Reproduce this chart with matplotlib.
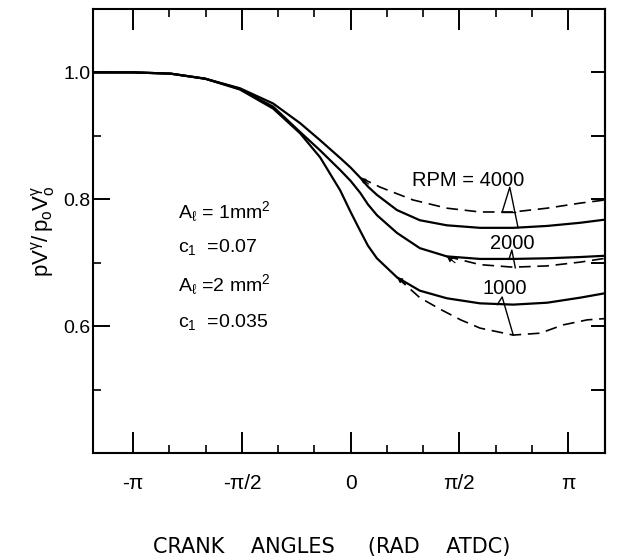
import numpy as np
import matplotlib
matplotlib.use('Agg')
import matplotlib.pyplot as plt
from matplotlib.ticker import FixedLocator

plt.rcParams['font.family'] = ['Liberation Sans', 'DejaVu Sans']
plt.rcParams['mathtext.fontset'] = 'custom'
plt.rcParams['mathtext.rm'] = 'Liberation Sans'
plt.rcParams['mathtext.it'] = 'Liberation Sans'

# crank angle (rad ATDC)
angle = [-3.72, -3.14, -2.6, -2.1, -1.6, -1.12, -0.73, -0.44, -0.15, 0.0,
         0.14, 0.25, 0.38, 0.67, 1.0, 1.39, 1.87, 2.35, 2.84, 3.32, 3.68]

# A_l = 1 mm^2, c1 = 0.07 (solid)
solid_4000 = [1.0, 1.0, 0.998, 0.99, 0.975, 0.951, 0.920, 0.893, 0.865, 0.850,
              0.834, 0.820, 0.807, 0.783, 0.767, 0.759, 0.755, 0.755, 0.758, 0.763, 0.768]
solid_2000 = [1.0, 1.0, 0.998, 0.99, 0.974, 0.946, 0.906, 0.877, 0.846, 0.829,
              0.810, 0.792, 0.775, 0.747, 0.723, 0.710, 0.706, 0.706, 0.707, 0.709, 0.711]
solid_1000 = [1.0, 1.0, 0.998, 0.99, 0.973, 0.943, 0.904, 0.866, 0.814, 0.780,
              0.750, 0.727, 0.707, 0.677, 0.656, 0.644, 0.636, 0.634, 0.637, 0.645, 0.652]

# A_l = 2 mm^2, c1 = 0.035 (dashed), branching off the solid curves
dash_4000_x = [0.14, 0.43, 0.90, 1.39, 1.87, 2.35, 2.84, 3.32, 3.68]
dash_4000_y = [0.834, 0.819, 0.799, 0.786, 0.780, 0.780, 0.786, 0.794, 0.799]
dash_2000_x = [1.39, 1.87, 2.35, 2.84, 3.32, 3.68]
dash_2000_y = [0.710, 0.697, 0.693, 0.695, 0.701, 0.707]
dash_1000_x = [0.67, 1.0, 1.29, 1.59, 1.87, 2.35, 2.74, 3.07, 3.42, 3.68]
dash_1000_y = [0.677, 0.645, 0.627, 0.610, 0.597, 0.586, 0.589, 0.602, 0.610, 0.612]

x_ticks = [-np.pi, -np.pi / 2, 0, np.pi / 2, np.pi]
x_ticklabels = ['-\u03c0', '-\u03c0/2', '0', '\u03c0/2', '\u03c0']
y_ticks = [0.6, 0.8, 1.0]
y_ticklabels = ['0.6', '0.8', '1.0']

fig = plt.figure(figsize=(6.17, 5.58), dpi=100)
ax = fig.add_axes([0.151, 0.188, 0.830, 0.796])

ax.plot(angle, solid_4000, color='black', lw=1.6)
ax.plot(angle, solid_2000, color='black', lw=1.6)
ax.plot(angle, solid_1000, color='black', lw=1.6)
for dx, dy in [(dash_4000_x, dash_4000_y), (dash_2000_x, dash_2000_y),
               (dash_1000_x, dash_1000_y)]:
    ax.plot(dx, dy, color='black', lw=1.2, dashes=(7, 4))
    # small arrowhead where the dashed curve leaves the solid one
    ax.annotate('', xy=(dx[0], dy[0]), xytext=(dx[0] + 0.12, dy[0] - 0.01),
                arrowprops=dict(arrowstyle='-|>', lw=0.8, color='black',
                                mutation_scale=8, shrinkA=0, shrinkB=0))

# RPM labels with leader lines
ax.text(0.88, 0.830, 'RPM = 4000', fontsize=14.5, va='center', ha='left')
ax.plot([2.19, 2.30, 2.42], [0.780, 0.819, 0.755], color='black', lw=1.0)
ax.plot([2.19, 2.38], [0.780, 0.780], color='black', lw=1.0)
ax.text(2.34, 0.731, '2000', fontsize=14.5, va='center', ha='center')
ax.plot([2.29, 2.33, 2.38], [0.706, 0.720, 0.692], color='black', lw=1.0)
ax.text(2.23, 0.660, '1000', fontsize=14.5, va='center', ha='center')
ax.plot([2.12, 2.19, 2.35], [0.634, 0.646, 0.586], color='black', lw=1.0)

# parameters
ax.text(-2.49, 0.780, r'$\mathregular{A}_{\ell}$ = 1mm$^{\mathregular{2}}$', fontsize=14, va='center')
ax.text(-2.49, 0.725, r'$\mathregular{c_1}$  =0.07', fontsize=14, va='center')
ax.text(-2.49, 0.665, r'$\mathregular{A}_{\ell}$ =2 mm$^{\mathregular{2}}$', fontsize=14, va='center')
ax.text(-2.49, 0.607, r'$\mathregular{c_1}$  =0.035', fontsize=14, va='center')

ax.set_xlim(-3.72, 3.68)
ax.set_ylim(0.40, 1.10)

ax.set_xticks(x_ticks)
ax.set_xticklabels(x_ticklabels, fontsize=15)
ax.xaxis.set_minor_locator(FixedLocator([k * np.pi / 6 for k in range(-6, 7)]))
ax.set_yticks(y_ticks)
ax.set_yticklabels(y_ticklabels, fontsize=14)
ax.yaxis.set_minor_locator(FixedLocator([0.5, 0.7, 0.9]))

ax.tick_params(axis='x', which='major', direction='in', length=15, width=1.4,
               top=True, pad=15)
ax.tick_params(axis='x', which='minor', direction='in', length=6, width=1.2, top=True)
ax.tick_params(axis='y', which='major', direction='in', length=12, width=1.4, pad=2)
ax.tick_params(axis='y', which='minor', direction='in', length=6, width=1.2)

right = ax.secondary_yaxis('right')
right.set_yticks([0.5, 0.6, 0.7, 0.8, 0.9, 1.0])
right.set_yticklabels([])
right.tick_params(direction='in', length=10, width=1.4)
right.yaxis.set_minor_locator(FixedLocator([]))

for s in ax.spines.values():
    s.set_linewidth(1.5)
right.spines['right'].set_linewidth(1.5)

ax.set_ylabel(r'$\mathregular{pV^{\gamma}/\,p_{o}V_{o}^{\gamma}}$', fontsize=16)
ax.yaxis.set_label_coords(-0.068, 0.5)
ax.set_xlabel('CRANK    ANGLES     (RAD    ATDC)', fontsize=15,
              family=['DejaVu Sans'])
ax.xaxis.set_label_coords(0.465, -0.19)

fig.savefig('out.png', dpi=100)
